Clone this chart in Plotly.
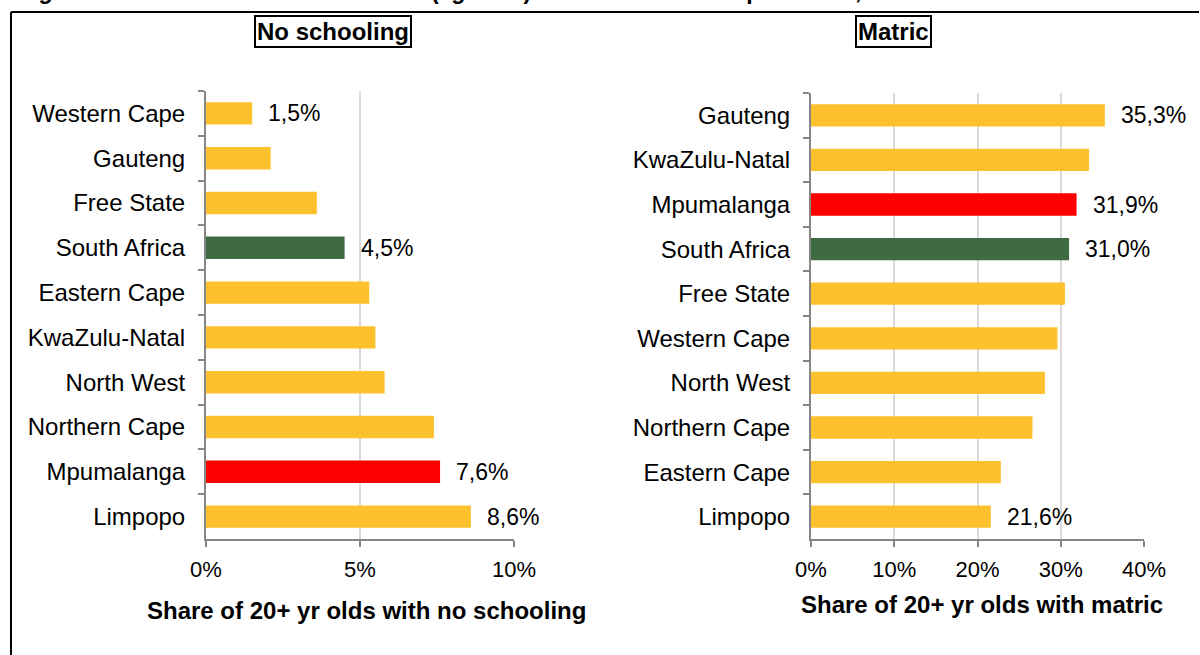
import plotly.graph_objects as go

# ---- data ----
noschool_provinces = ["Western Cape", "Gauteng", "Free State", "South Africa", "Eastern Cape",
                      "KwaZulu-Natal", "North West", "Northern Cape", "Mpumalanga", "Limpopo"]
noschool_values = [1.5, 2.1, 3.6, 4.5, 5.3, 5.5, 5.8, 7.4, 7.6, 8.6]
noschool_labelled = ["Western Cape", "South Africa", "Mpumalanga", "Limpopo"]

matric_provinces = ["Gauteng", "KwaZulu-Natal", "Mpumalanga", "South Africa", "Free State",
                    "Western Cape", "North West", "Northern Cape", "Eastern Cape", "Limpopo"]
matric_values = [35.3, 33.4, 31.9, 31.0, 30.5, 29.6, 28.1, 26.6, 22.8, 21.6]
matric_labelled = ["Gauteng", "Mpumalanga", "South Africa", "Limpopo"]

noschool_ticks = [0, 5, 10]
noschool_ticklabels = ["0%", "5%", "10%"]
matric_ticks = [0, 10, 20, 30, 40]
matric_ticklabels = ["0%", "10%", "20%", "30%", "40%"]

title_text = "Figure 11 – Selected education levels (age 20+) – South Africa and provinces, 2016"
panel_titles = ["No schooling", "Matric"]
axis_titles = ["Share of 20+ yr olds with no schooling", "Share of 20+ yr olds with matric"]

# ---- style ----
W, H = 1200, 655
ORANGE, GREEN, RED = "#FCC12D", "#3E6B41", "#FF0000"
FONT = "Liberation Sans, Arial, sans-serif"
AXIS_GREY = "#868686"
GRID = "#D9D9D9"


def colour(p):
    if p == "South Africa":
        return GREEN
    if p == "Mpumalanga":
        return RED
    return ORANGE


def px_x(x):
    return x / W


def px_y(y):
    return 1 - y / H


fig = go.Figure()
fig.add_trace(go.Bar(x=noschool_values, y=noschool_provinces, orientation="h",
                     marker=dict(color=[colour(p) for p in noschool_provinces], line=dict(width=0)),
                     xaxis="x", yaxis="y", hoverinfo="x+y", showlegend=False))
fig.add_trace(go.Bar(x=matric_values, y=matric_provinces, orientation="h",
                     marker=dict(color=[colour(p) for p in matric_provinces], line=dict(width=0)),
                     xaxis="x2", yaxis="y2", hoverinfo="x+y", showlegend=False))

# figure title, cut off at the top edge as in the original: drawn as text in a thin
# strip-subplot that clips it (x3/y3 are pixel-like helper axes)
fig.add_trace(go.Scatter(x=[18], y=[15], mode="text", text=[f"<b>{title_text}</b>"],
                         textposition="middle right", cliponaxis=True,
                         textfont=dict(family=FONT, size=23, color="black"),
                         xaxis="x3", yaxis="y3", hoverinfo="skip", showlegend=False))

annotations = []
for provs, vals, lab, xr, yr in [(noschool_provinces, noschool_values, noschool_labelled, "x", "y"),
                                 (matric_provinces, matric_values, matric_labelled, "x2", "y2")]:
    for p, v in zip(provs, vals):
        if p in lab:
            annotations.append(dict(x=v, y=p, xref=xr, yref=yr, text=f"{v:.1f}%".replace(".", ","),
                                    showarrow=False, xanchor="left", xshift=14,
                                    font=dict(family=FONT, size=23, color="black")))

# panel titles (boxed)
for t, xc in zip(panel_titles, [333, 893]):
    annotations.append(dict(x=px_x(xc), y=px_y(32), xref="paper", yref="paper", text=f"<b>{t}</b>",
                            showarrow=False, xanchor="center", yanchor="middle",
                            bordercolor="black", borderwidth=2, borderpad=1, bgcolor="white",
                            font=dict(family=FONT, size=24, color="black")))

# axis titles
for t, xc, yc in zip(axis_titles, [366, 982], [610, 604]):
    annotations.append(dict(x=px_x(xc), y=px_y(yc), xref="paper", yref="paper", text=f"<b>{t}</b>",
                            showarrow=False, xanchor="center", yanchor="middle",
                            font=dict(family=FONT, size=24, color="black")))

shapes = [
    dict(type="line", xref="paper", yref="paper", x0=px_x(11), x1=px_x(1199), y0=px_y(12), y1=px_y(12),
         line=dict(color="black", width=2), layer="below"),
    dict(type="line", xref="paper", yref="paper", x0=px_x(11), x1=px_x(11), y0=px_y(12), y1=0,
         line=dict(color="black", width=2), layer="below"),
]

common_x = dict(showgrid=True, gridcolor=GRID, gridwidth=2, zeroline=False, showline=True,
                linecolor=AXIS_GREY, linewidth=2, ticks="outside", ticklen=6, tickwidth=2,
                tickcolor=AXIS_GREY, tickfont=dict(family=FONT, size=22, color="black"),
                ticklabelstandoff=4, tickmode="array", automargin=False, fixedrange=True)
common_y = dict(type="category", autorange="reversed", showgrid=False, zeroline=False, showline=True,
                linecolor=AXIS_GREY, linewidth=2, ticks="outside", ticklen=6, tickwidth=2,
                tickcolor=AXIS_GREY, tickson="boundaries", ticklabelstandoff=14, automargin=False,
                tickfont=dict(family=FONT, size=24, color="black"), fixedrange=True)
hidden = dict(visible=False, showgrid=False, zeroline=False, automargin=False, fixedrange=True)

fig.update_layout(
    width=W, height=H, autosize=False,
    margin=dict(l=0, r=0, t=0, b=0, autoexpand=False),
    paper_bgcolor="white", plot_bgcolor="white",
    bargap=0.5,
    font=dict(family=FONT, color="black"),
    xaxis=dict(common_x, domain=[px_x(206), px_x(514)], range=[0, 10],
               tickvals=noschool_ticks, ticktext=noschool_ticklabels, anchor="y"),
    yaxis=dict(common_y, domain=[px_y(539), px_y(91)], anchor="x"),
    xaxis2=dict(common_x, domain=[px_x(811), px_x(1144)], range=[0, 40],
                tickvals=matric_ticks, ticktext=matric_ticklabels, anchor="y2"),
    yaxis2=dict(common_y, domain=[px_y(539), px_y(93)], anchor="x2"),
    xaxis3=dict(hidden, domain=[0, 1], range=[0, 1200], anchor="y3"),
    yaxis3=dict(hidden, domain=[px_y(8), 1], range=[0, 8], anchor="x3"),
    annotations=annotations,
    shapes=shapes,
)

fig.write_html("out.html", config=dict(displayModeBar=False),
               post_script="document.body.style.margin='0';document.body.style.overflow='hidden';")
